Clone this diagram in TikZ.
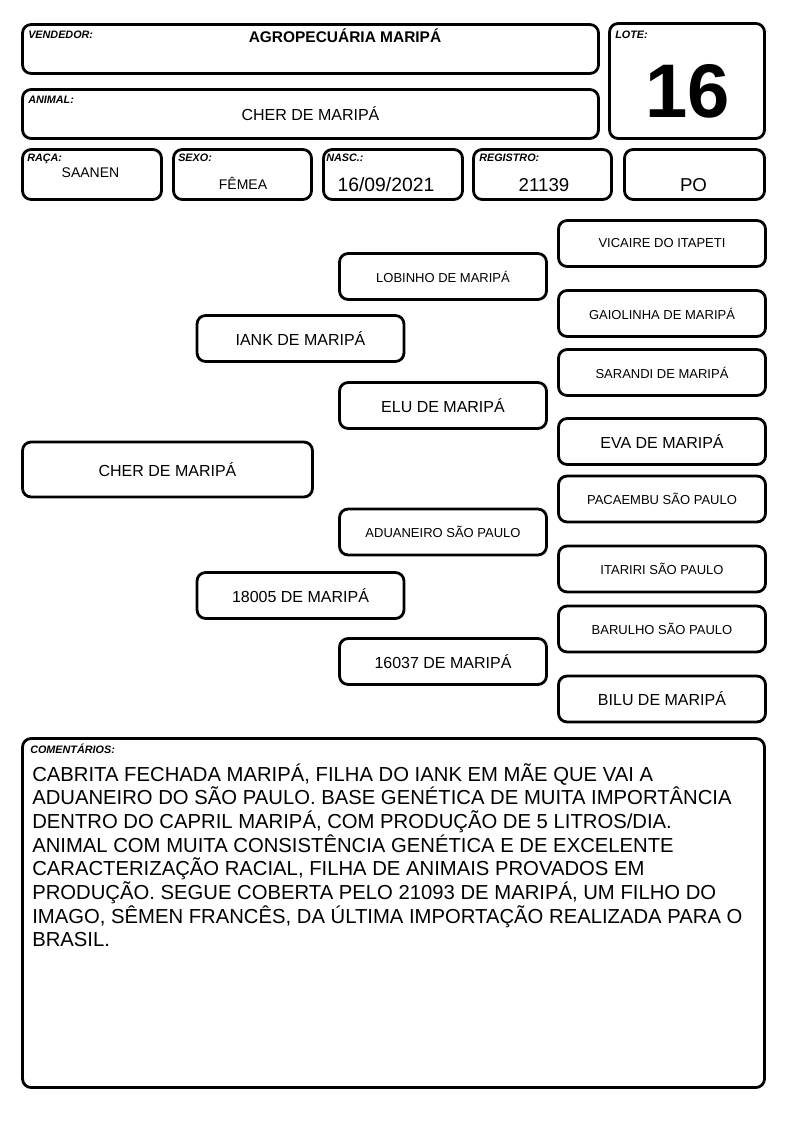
\documentclass[tikz,border=0pt]{standalone}
\usepackage{fontspec}
\setmainfont{Liberation Sans}
\newcommand{\fsz}[1]{\fontsize{#1}{#1}\selectfont}
\begin{document}
\begin{tikzpicture}[x=0.75pt,y=-0.75pt,
  box/.style={draw=black, line width=2.1pt, rounded corners=6.5pt, inner sep=0pt, fill=white},
  pedbig/.style={box, minimum width=155.25pt, minimum height=34.5pt, font=\fsz{12pt}},
  pedsmall/.style={box, minimum width=155.25pt, minimum height=34.5pt, font=\fsz{9.75pt}},
  lbl/.style={inner sep=0pt, anchor=base west, font=\fsz{8.1pt}\bfseries\itshape},
  val/.style={inner sep=0pt, anchor=base},
  com/.style={inner sep=0pt, anchor=base west, font=\fsz{15.2pt}}]
\useasboundingbox (0,0) rectangle (794,1123);
\fill[white] (0,0) rectangle (794,1123);
% header boxes
\node[box, minimum width=432pt, minimum height=36.75pt] (vend) at (310.5,49) {};
\node[box, minimum width=432pt, minimum height=36.75pt] (animal) at (310.5,114) {};
\node[box, minimum width=116.25pt, minimum height=86.25pt] (lote) at (687,81) {};
\node[box, minimum width=104.25pt, minimum height=37.5pt] (raca) at (92,174.5) {};
\node[box, minimum width=103.5pt, minimum height=37.5pt] (sexo) at (242.5,174.5) {};
\node[box, minimum width=104.25pt, minimum height=37.5pt] (nasc) at (393,174.5) {};
\node[box, minimum width=103.5pt, minimum height=37.5pt] (reg) at (542.5,174.5) {};
\node[box, minimum width=105pt, minimum height=37.5pt] (po) at (694.5,174.5) {};
% labels
\node[lbl] (lvend) at (28,39) {VENDEDOR:};
\node[lbl] (lanimal) at (28,103.5) {ANIMAL:};
\node[lbl] (llote) at (615,39) {LOTE:};
\node[lbl] (lraca) at (27,162) {RAÇA:};
\node[lbl] (lsexo) at (178,162) {SEXO:};
\node[lbl] (lnasc) at (326,162) {NASC.:};
\node[lbl] (lreg) at (479,162) {REGISTRO:};
% values
\node[val, font=\fsz{11.6pt}\bfseries] (tvend) at (345,43) {AGROPECUÁRIA MARIPÁ};
\node[val, font=\fsz{12pt}] (tanimal) at (310.5,121) {CHER DE MARIPÁ};
\node[val, font=\fsz{57pt}\bfseries] (tlote) at (687.5,118) {16};
\node[val, font=\fsz{10.5pt}] (traca) at (90.5,178) {SAANEN};
\node[val, font=\fsz{10.5pt}] (tsexo) at (243,190) {FÊMEA};
\node[val, font=\fsz{14.5pt}] (tnasc) at (386,192) {16/09/2021};
\node[val, font=\fsz{14pt}] (treg) at (544,192) {21139};
\node[val, font=\fsz{14pt}] (tpo) at (693.5,192) {PO};
% pedigree
\node[box, minimum width=217.5pt, minimum height=41.25pt, font=\fsz{12pt}] (cher) at (167.5,469.5) {CHER DE MARIPÁ};
\node[pedbig] (iank) at (300.5,338.5) {IANK DE MARIPÁ};
\node[pedbig] (n18005) at (300.5,595.5) {18005 DE MARIPÁ};
\node[pedsmall] (lobinho) at (443,276.5) {LOBINHO DE MARIPÁ};
\node[pedbig] (elu) at (443,405.5) {ELU DE MARIPÁ};
\node[pedsmall] (aduaneiro) at (443,532) {ADUANEIRO SÃO PAULO};
\node[pedbig] (n16037) at (443,661.5) {16037 DE MARIPÁ};
\node[pedsmall] (vicaire) at (662,243.5) {VICAIRE DO ITAPETI};
\node[pedsmall] (gaiolinha) at (662,313.5) {GAIOLINHA DE MARIPÁ};
\node[pedsmall] (sarandi) at (662,372.5) {SARANDI DE MARIPÁ};
\node[pedbig] (eva) at (662,441.5) {EVA DE MARIPÁ};
\node[pedsmall] (pacaembu) at (662,499) {PACAEMBU SÃO PAULO};
\node[pedsmall] (itariri) at (662,569) {ITARIRI SÃO PAULO};
\node[pedsmall] (barulho) at (662,629) {BARULHO SÃO PAULO};
\node[pedbig] (bilu) at (662,699) {BILU DE MARIPÁ};
% comments
\node[box, minimum width=556.5pt, minimum height=261.75pt] (combox) at (393.5,913) {};
\node[lbl] (lcom) at (30,753) {COMENTÁRIOS:};
\node[com] (c1) at (32,781) {CABRITA FECHADA MARIPÁ, FILHA DO IANK EM MÃE QUE VAI A};
\node[com] (c2) at (32,804.7) {ADUANEIRO DO SÃO PAULO. BASE GENÉTICA DE MUITA IMPORTÂNCIA};
\node[com] (c3) at (32,828.4) {DENTRO DO CAPRIL MARIPÁ, COM PRODUÇÃO DE 5 LITROS/DIA.};
\node[com] (c4) at (32,852.1) {ANIMAL COM MUITA CONSISTÊNCIA GENÉTICA E DE EXCELENTE};
\node[com] (c5) at (32,875.8) {CARACTERIZAÇÃO RACIAL, FILHA DE ANIMAIS PROVADOS EM};
\node[com] (c6) at (32,899.5) {PRODUÇÃO. SEGUE COBERTA PELO 21093 DE MARIPÁ, UM FILHO DO};
\node[com] (c7) at (32,923.2) {IMAGO, SÊMEN FRANCÊS, DA ÚLTIMA IMPORTAÇÃO REALIZADA PARA O};
\node[com] (c8) at (32,946.9) {BRASIL.};
\end{tikzpicture}
\end{document}
